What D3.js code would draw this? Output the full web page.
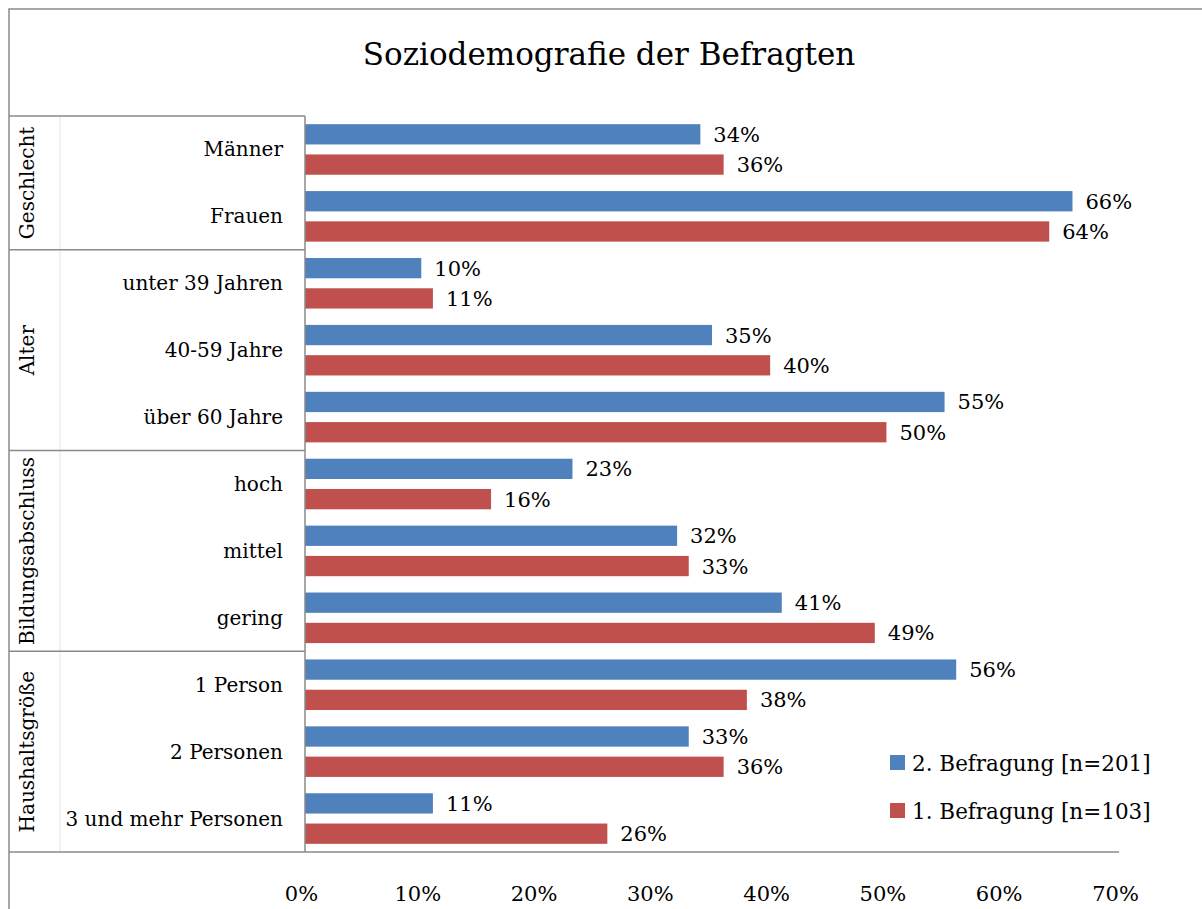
<!DOCTYPE html>
<html lang="de">
<head>
<meta charset="UTF-8">
<title>Soziodemografie der Befragten</title>
<style>
    html, body { margin: 0; padding: 0; background: #fff; }
    svg text { font-family: "DejaVu Serif", serif; fill: #000; }
</style>
</head>
<body>
<div id="chart"></div>
<script src="https://d3js.org/d3.v7.min.js"></script>
<script>
// data
const groups = [
    { name: "Geschlecht", items: ["Männer", "Frauen"] },
    { name: "Alter", items: ["unter 39 Jahren", "40-59 Jahre", "über 60 Jahre"] },
    { name: "Bildungsabschluss", items: ["hoch", "mittel", "gering"] },
    { name: "Haushaltsgröße", items: ["1 Person", "2 Personen", "3 und mehr Personen"] }
];
const categories = groups.flatMap(g => g.items);
const befragung2 = [34, 66, 10, 35, 55, 23, 32, 41, 56, 33, 11];
const befragung1 = [36, 64, 11, 40, 50, 16, 33, 49, 38, 36, 26];
const seriesNames = ["2. Befragung [n=201]", "1. Befragung [n=103]"];
const seriesColors = ["#4F81BD", "#C0504D"];
const xTicks = [0, 10, 20, 30, 40, 50, 60, 70];

const W = 1202, H = 909;
const plot = { left: 305, right: 1119, top: 116, bottom: 852 };

const svg = d3.select("#chart").append("svg")
    .attr("width", W).attr("height", H);

// outer frame (runs off the right and bottom edge in the original)
svg.append("rect")
    .attr("x", 9).attr("y", 9)
    .attr("width", W + 20).attr("height", H + 20)
    .attr("fill", "none").attr("stroke", "#8a8a8a").attr("stroke-width", 1.5);

svg.append("text")
    .attr("x", 609).attr("y", 65)
    .attr("text-anchor", "middle")
    .style("font-size", "31px")
    .text("Soziodemografie der Befragten");

const x = d3.scaleLinear().domain([0, 70]).range([plot.left, plot.right]);
const y = d3.scaleBand().domain(categories).range([plot.top, plot.bottom]);
const ySub = d3.scaleBand().domain([0, 1])
    .range([0, y.bandwidth()]).paddingInner(0.33).paddingOuter(0.27);

const rows = categories.map((c, i) => ({ cat: c, vals: [befragung2[i], befragung1[i]] }));

// bars
const rowG = svg.append("g").selectAll("g").data(rows).join("g")
    .attr("transform", d => `translate(0,${y(d.cat)})`);

rowG.selectAll("rect").data(d => d.vals).join("rect")
    .attr("x", x(0))
    .attr("y", (d, i) => ySub(i))
    .attr("width", d => x(d) - x(0))
    .attr("height", ySub.bandwidth())
    .attr("fill", (d, i) => seriesColors[i]);

rowG.selectAll("text").data(d => d.vals).join("text")
    .attr("x", d => x(d) + 13)
    .attr("y", (d, i) => ySub(i) + ySub.bandwidth() / 2 + 7.5)
    .style("font-size", "21px")
    .text(d => d + "%");

// category labels
svg.append("g").selectAll("text").data(categories).join("text")
    .attr("x", 283)
    .attr("y", d => y(d) + y.bandwidth() / 2 + 7)
    .attr("text-anchor", "end")
    .style("font-size", "20px")
    .text(d => d);

// label box with group separators
const box = svg.append("g").attr("fill", "none");
box.append("line")
    .attr("x1", 60).attr("x2", 60).attr("y1", plot.top).attr("y2", plot.bottom)
    .attr("stroke", "#e3e3e3").attr("stroke-width", 1);
const bounds = groups.map(g => ({
    name: g.name,
    y0: y(g.items[0]),
    y1: y(g.items[g.items.length - 1]) + y.bandwidth()
}));
box.selectAll("line.sep").data(bounds).join("line")
    .attr("class", "sep")
    .attr("x1", 9).attr("x2", plot.left)
    .attr("y1", d => d.y0).attr("y2", d => d.y0)
    .attr("stroke", "#8a8a8a").attr("stroke-width", 1.5);
box.append("line")
    .attr("x1", 9).attr("x2", plot.right)
    .attr("y1", plot.bottom).attr("y2", plot.bottom)
    .attr("stroke", "#8a8a8a").attr("stroke-width", 1.5);
box.append("line")
    .attr("x1", plot.left).attr("x2", plot.left)
    .attr("y1", plot.top).attr("y2", plot.bottom)
    .attr("stroke", "#8a8a8a").attr("stroke-width", 1.5);

svg.append("g").selectAll("text").data(bounds).join("text")
    .attr("transform", d => `translate(34,${(d.y0 + d.y1) / 2}) rotate(-90)`)
    .attr("text-anchor", "middle")
    .style("font-size", "20px")
    .text(d => d.name);

// x axis
const xAxis = svg.append("g")
    .attr("transform", `translate(0,${plot.bottom})`)
    .call(d3.axisBottom(x).tickValues(xTicks).tickSize(0).tickFormat(d => d + "%"));
xAxis.select(".domain").remove();
xAxis.selectAll("text")
    .attr("x", -4)
    .attr("y", 34)
    .style("font-size", "21px")
    .style("font-family", '"DejaVu Serif", serif')
    .attr("fill", "#000");

// legend
const legend = svg.append("g").selectAll("g").data(seriesNames).join("g")
    .attr("transform", (d, i) => `translate(890,${755 + i * 48})`);
legend.append("rect")
    .attr("width", 15).attr("height", 15)
    .attr("fill", (d, i) => seriesColors[i]);
legend.append("text")
    .attr("x", 22).attr("y", 16)
    .style("font-size", "21.5px")
    .text(d => d);
</script>
</body>
</html>
